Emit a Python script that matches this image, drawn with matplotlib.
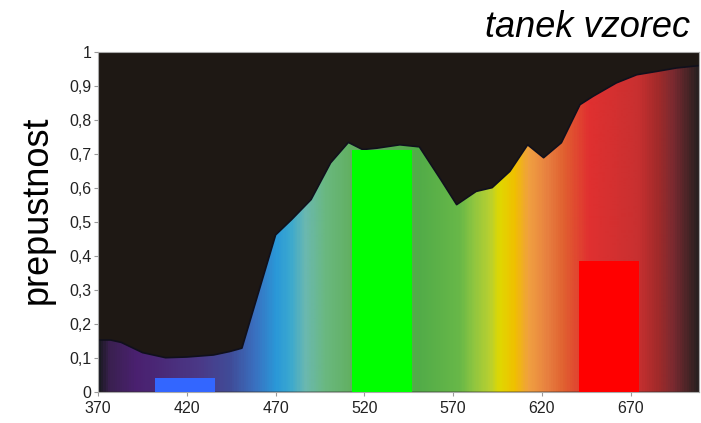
import numpy as np
import matplotlib
matplotlib.use("Agg")
import matplotlib.pyplot as plt
from matplotlib.colors import LinearSegmentedColormap

plt.rcParams['font.family'] = ['Liberation Sans', 'DejaVu Sans']

# transmission curve of the sample
wl = [370, 377, 383, 395, 408, 420, 435, 444, 451, 470, 479, 490, 501, 511, 519, 527,
      540, 551, 563, 572, 583, 592, 602, 612, 621, 631, 641.5, 649, 662, 673.5, 685, 696, 709]
trans = [0.152, 0.152, 0.145, 0.115, 0.100, 0.102, 0.108, 0.118, 0.128, 0.461, 0.506, 0.565,
         0.673, 0.733, 0.712, 0.716, 0.726, 0.720, 0.624, 0.550, 0.589, 0.600, 0.648, 0.726,
         0.688, 0.732, 0.844, 0.869, 0.908, 0.932, 0.942, 0.952, 0.959]

# LED bars (start, width, height)
bar_start = [402, 513, 641]
bar_width = [34, 34, 34]
bar_height = [0.04, 0.712, 0.383]
bar_colors = ['#3366ff', '#00ff00', '#ff0000']

xticks = [370, 420, 470, 520, 570, 620, 670]
yticks = [0, 0.1, 0.2, 0.3, 0.4, 0.5, 0.6, 0.7, 0.8, 0.9, 1]
ytick_labels = ['0', '0,1', '0,2', '0,3', '0,4', '0,5', '0,6', '0,7', '0,8', '0,9', '1']

# spectrum gradient
grad_nm = [370, 375.6, 390.8, 405, 427.5, 444, 458, 470, 478, 486.6, 498, 512, 551, 574,
           582, 591, 596.5, 605, 613, 623.5, 633, 647, 675, 686.6, 695, 702, 708.5]
grad_col = ['#1a1a22', '#3a2050', '#4a2070', '#4a2a78', '#4a3a88', '#404c98', '#3a70c0',
            '#2a98d8', '#3aa8d0', '#6ab8b0', '#6ab880', '#62b062', '#52ac48', '#68b848',
            '#90c640', '#b8d030', '#e0d800', '#f0c000', '#f0a040', '#e88040', '#e06030',
            '#e03030', '#c83030', '#a02a2a', '#7a2a30', '#502528', '#2a2020']

xmin, xmax = 370, 708.5

fig = plt.figure(figsize=(7.01, 4.23), dpi=100)
ax = fig.add_axes([0.14, 0.074, 0.857, 0.804])
ax.set_facecolor('#1e1814')

pos = [(n - xmin) / (xmax - xmin) for n in grad_nm]
cmap = LinearSegmentedColormap.from_list('spec', list(zip(pos, grad_col)))
grad = np.linspace(0, 1, 600).reshape(1, -1)

poly = ax.fill_between(wl, trans, 0, color='none', lw=0)
img = ax.imshow(grad, cmap=cmap, extent=[xmin, xmax, 0, 1], aspect='auto', origin='lower', zorder=1)
path = poly.get_paths()[0]
img.set_clip_path(path, transform=ax.transData)
ax.plot(wl, trans, color='#10101c', lw=1.2, zorder=2)

ax.bar(bar_start, bar_height, width=bar_width, align='edge', color=bar_colors, zorder=3)

ax.set_xlim(xmin, xmax)
ax.set_ylim(0, 1)
ax.set_xticks(xticks)
ax.set_yticks(yticks)
ax.set_yticklabels(ytick_labels)
ax.tick_params(labelsize=11.5, colors='#222222', length=3, width=0.8, pad=2)
ax.tick_params(axis='x', pad=4)
ax.tick_params(axis='both', color='#999999')
for s in ax.spines.values():
    s.set_color('#aaaaaa')
    s.set_linewidth(0.8)

fig.text(0.053, 0.503, 'prepustnost', rotation=90, ha='center', va='center', fontsize=26)
fig.text(0.985, 0.935, 'tanek vzorec', ha='right', va='center', fontsize=26, style='italic')

fig.savefig('out.png', dpi=100)
